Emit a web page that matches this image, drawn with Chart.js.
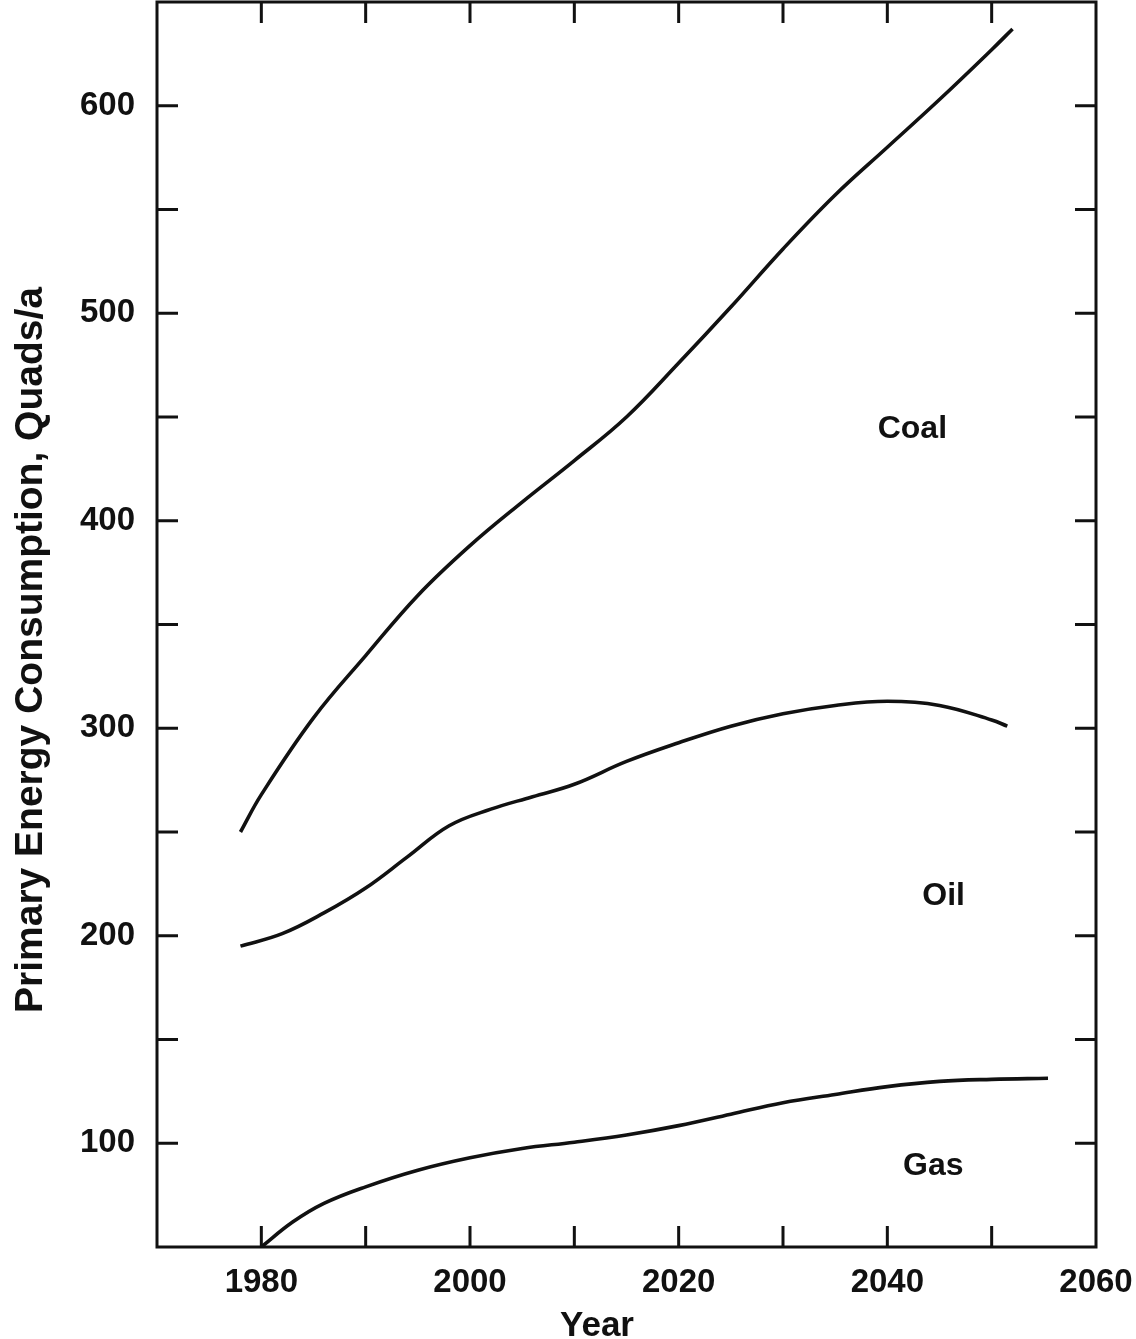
<!DOCTYPE html>
<html>
<head>
<meta charset="utf-8">
<script src="https://cdn.jsdelivr.net/npm/chart.js@4/dist/chart.umd.min.js"></script>
<style>
html,body{margin:0;padding:0;background:#ffffff;}
#wrap{position:relative;width:1136px;height:1339px;}
</style>
</head>
<body>
<div id="wrap"><canvas id="c" width="1136" height="1339"></canvas></div>
<script>
// ---- data ----
const coalYears  = [1978, 1980, 1985, 1990, 1995, 2000, 2005, 2010, 2015, 2020, 2025, 2030, 2035, 2040, 2045, 2050, 2052];
const coalValues = [250, 268, 305, 335, 364, 388, 409, 429, 450, 476, 503, 531, 557, 580, 603, 627, 637];

const oilYears   = [1978, 1982, 1986, 1990, 1994, 1998, 2002, 2006, 2010, 2015, 2020, 2025, 2030, 2035, 2040, 2045, 2050, 2051.5];
const oilValues  = [195, 201, 211, 223, 238, 253, 261, 267, 273, 284, 293, 301, 307, 311, 313, 311, 304, 301];

const gasYears   = [1980, 1983, 1986, 1990, 1995, 2000, 2005, 2010, 2015, 2020, 2025, 2030, 2035, 2040, 2045, 2050, 2055.4];
const gasValues  = [50, 62, 71, 79, 87, 93, 97.5, 100.5, 104, 108.5, 114, 119.5, 123.5, 127.3, 129.8, 130.8, 131.3];

const xLabelYears = [1980, 2000, 2020, 2040, 2060];
const yLabelValues = [100, 200, 300, 400, 500, 600];

const seriesNames = ['Coal', 'Oil', 'Gas'];
const xTitle = 'Year';
const yTitle = 'Primary Energy Consumption, Quads/a';

// ---- build ----
const toPts = (xs, ys) => xs.map((x, i) => ({x: x, y: ys[i]}));
const INK = '#111111';
const FONT = '"Liberation Sans", Arial, Helvetica, sans-serif';

const lineStyle = {
  borderColor: INK, borderWidth: 3.6, pointRadius: 0, fill: false,
  tension: 0.4
};

// label anchors in data units (year, value)
const labelAnchors = {
  Coal: [2042.4, 440],
  Oil:  [2045.4, 215],
  Gas:  [2044.4, 84.5]
};

const framePlugin = {
  id: 'frame',
  afterDraw(chart) {
    const {ctx, chartArea: a, scales} = chart;
    const xs = scales.x, ys = scales.y;
    ctx.save();
    ctx.strokeStyle = INK;
    ctx.lineWidth = 3;
    ctx.lineCap = 'butt';
    ctx.strokeRect(a.left, a.top, a.right - a.left, a.bottom - a.top);
    const tl = 21;
    ctx.beginPath();
    xs.ticks.forEach(t => {
      if (t.value <= xs.min || t.value >= xs.max) return;
      const px = xs.getPixelForValue(t.value);
      ctx.moveTo(px, a.bottom); ctx.lineTo(px, a.bottom - tl);
      ctx.moveTo(px, a.top); ctx.lineTo(px, a.top + tl);
    });
    ys.ticks.forEach(t => {
      if (t.value <= ys.min || t.value >= ys.max) return;
      const py = ys.getPixelForValue(t.value);
      ctx.moveTo(a.left, py); ctx.lineTo(a.left + tl, py);
      ctx.moveTo(a.right, py); ctx.lineTo(a.right - tl, py);
    });
    ctx.stroke();

    // texts
    ctx.fillStyle = INK;
    ctx.font = 'bold 32px ' + FONT;
    ctx.textAlign = 'center';
    ctx.textBaseline = 'alphabetic';
    seriesNames.forEach(n => {
      const [yx, yv] = labelAnchors[n];
      ctx.fillText(n, xs.getPixelForValue(yx), ys.getPixelForValue(yv));
    });

    ctx.font = 'bold 35px ' + FONT;
    ctx.fillText(xTitle, 597, 1336);

    ctx.save();
    ctx.translate(42, 650);
    ctx.rotate(-Math.PI / 2);
    ctx.font = 'bold 39px ' + FONT;
    ctx.textAlign = 'center';
    ctx.textBaseline = 'alphabetic';
    ctx.fillText(yTitle, 0, 0);
    ctx.restore();
    ctx.restore();
  }
};

new Chart(document.getElementById('c'), {
  type: 'line',
  data: {
    datasets: [
      Object.assign({label: seriesNames[0], data: toPts(coalYears, coalValues)}, lineStyle),
      Object.assign({label: seriesNames[1], data: toPts(oilYears, oilValues)}, lineStyle),
      Object.assign({label: seriesNames[2], data: toPts(gasYears, gasValues)}, lineStyle)
    ]
  },
  options: {
    responsive: false,
    animation: false,
    devicePixelRatio: 1,
    layout: {padding: {left: 0, top: 2, right: 40, bottom: 0}},
    plugins: {legend: {display: false}, tooltip: {enabled: false}, title: {display: false}},
    scales: {
      x: {
        type: 'linear', min: 1970, max: 2060,
        grid: {display: false, drawTicks: false},
        border: {display: false},
        ticks: {
          stepSize: 10, autoSkip: false, maxRotation: 0, minRotation: 0,
          padding: 16, color: INK,
          font: {family: FONT, weight: 'bold', size: 33},
          callback: v => xLabelYears.includes(v) ? String(v) : ''
        },
        afterFit: s => { s.height = 92; s.paddingLeft = 0; s.paddingRight = 0; }
      },
      y: {
        type: 'linear', min: 50, max: 650,
        grid: {display: false, drawTicks: false},
        border: {display: false},
        ticks: {
          stepSize: 50, autoSkip: false, padding: 22, color: INK,
          font: {family: FONT, weight: 'bold', size: 33},
          callback: v => yLabelValues.includes(v) ? String(v) : ''
        },
        afterFit: s => { s.width = 157; s.paddingTop = 0; s.paddingBottom = 0; }
      }
    }
  },
  plugins: [framePlugin]
});
</script>
</body>
</html>
